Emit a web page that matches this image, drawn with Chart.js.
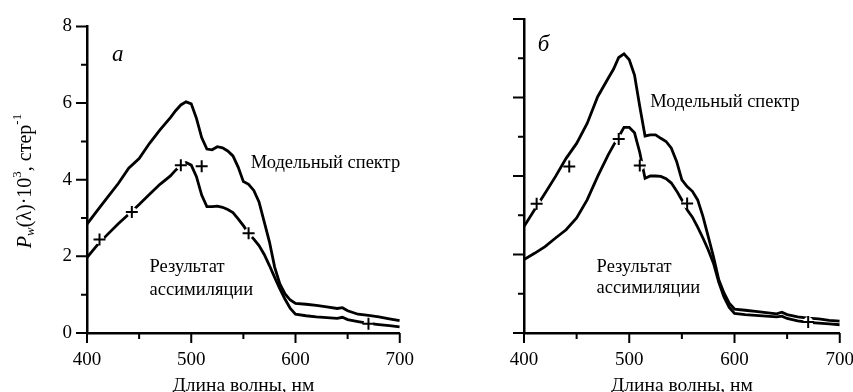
<!DOCTYPE html>
<html>
<head>
<meta charset="utf-8">
<script src="https://cdn.jsdelivr.net/npm/chart.js@4.4.1/dist/chart.umd.min.js"></script>
<style>
  html, body { margin: 0; padding: 0; background: #fff; }
  body { width: 853px; height: 392px; overflow: hidden; position: relative; }
  canvas { position: absolute; top: 0; }
  #panelA { left: 0; }
  #panelB { left: 430px; }
</style>
</head>
<body>
<canvas id="panelA" width="430" height="392"></canvas>
<canvas id="panelB" width="440" height="392"></canvas>
<script>
/*global Chart*/
"use strict";

// wavelength grid, nm
var wavelengths = [400, 410, 420, 430, 440, 450, 460, 470, 480, 485, 490, 495,
  500, 505, 510, 515, 520, 525, 530, 535, 540, 545, 550, 555, 560, 565, 570,
  575, 580, 585, 590, 595, 600, 610, 620, 630, 640, 645, 650, 660, 670, 680,
  690, 700];

// panel a
var modelA = [2.84, 3.2, 3.55, 3.9, 4.3, 4.55, 4.95, 5.3, 5.62, 5.8, 5.95, 6.03,
  5.98, 5.6, 5.1, 4.8, 4.78, 4.86, 4.83, 4.75, 4.62, 4.33, 3.95, 3.88, 3.72,
  3.42, 2.9, 2.38, 1.72, 1.28, 1.02, 0.86, 0.77, 0.75, 0.72, 0.68, 0.64, 0.66,
  0.58, 0.49, 0.46, 0.42, 0.37, 0.32];
var assimA = [1.97, 2.3, 2.58, 2.85, 3.1, 3.35, 3.62, 3.88, 4.1, 4.25, 4.38,
  4.45, 4.38, 4.08, 3.6, 3.3, 3.3, 3.31, 3.28, 3.22, 3.14, 2.98, 2.8, 2.6,
  2.45, 2.28, 2.05, 1.76, 1.45, 1.15, 0.88, 0.64, 0.49, 0.45, 0.42, 0.4, 0.38,
  0.41, 0.35, 0.3, 0.25, 0.22, 0.19, 0.16];

// panel b
var modelB = [2.71, 3.14, 3.56, 3.99, 4.45, 4.83, 5.34, 6.02, 6.49, 6.72, 7.02,
  7.11, 6.96, 6.57, 5.77, 5.02, 5.05, 5.05, 4.96, 4.88, 4.71, 4.37, 3.9, 3.73,
  3.61, 3.39, 2.97, 2.46, 1.95, 1.36, 1.02, 0.76, 0.61, 0.58, 0.55, 0.52, 0.49,
  0.53, 0.47, 0.41, 0.38, 0.36, 0.32, 0.3];
var assimB = [1.87, 2.03, 2.2, 2.42, 2.63, 2.93, 3.39, 3.99, 4.54, 4.78, 5.0,
  5.24, 5.24, 5.1, 4.6, 3.94, 4.0, 4.0, 3.99, 3.93, 3.82, 3.62, 3.39, 3.14,
  2.95, 2.7, 2.42, 2.12, 1.78, 1.3, 0.92, 0.65, 0.5, 0.47, 0.45, 0.43, 0.41,
  0.43, 0.37, 0.31, 0.27, 0.25, 0.23, 0.21];

// satellite bands (crosses)
var bands = [412, 443, 490, 510, 555, 670];
var bandsA = [2.44, 3.16, 4.38, 4.35, 2.6, 0.24];
var bandsB = [3.29, 4.24, 4.94, 4.27, 3.3, 0.28];

var xTicks = [400, 500, 600, 700];
var yTicks = [0, 2, 4, 6, 8];

var SERIF = "'Liberation Serif', 'Times New Roman', serif";

function toPoints(xs, ys) {
  return xs.map(function (x, i) {
    return {x: x, y: ys[i]};
  });
}

var tickMarks = {
  id: "tickMarks",
  afterDraw: function (chart) {
    var ctx = chart.ctx,
      area = chart.chartArea,
      xs = chart.scales.x,
      ys = chart.scales.y;
    ctx.save();
    ctx.strokeStyle = "#000";
    ctx.lineWidth = 2;
    ctx.beginPath();
    xs.ticks.forEach(function (t) {
      var px = xs.getPixelForValue(t.value),
        len = xTicks.indexOf(t.value) >= 0 ? 10 : 6;
      ctx.moveTo(px, area.bottom);
      ctx.lineTo(px, area.bottom + len);
    });
    ys.ticks.forEach(function (t) {
      var py = ys.getPixelForValue(t.value),
        len = yTicks.indexOf(t.value) >= 0 ? 11 : 6;
      ctx.moveTo(area.left - len, py);
      ctx.lineTo(area.left, py);
    });
    ctx.stroke();
    ctx.restore();
  }
};

var textLayer = {
  id: "textLayer",
  afterDraw: function (chart, args, opts) {
    var ctx = chart.ctx,
      area = chart.chartArea,
      xs = chart.scales.x,
      ys = chart.scales.y;
    ctx.save();
    ctx.fillStyle = "#000";
    ctx.textBaseline = "middle";
    ctx.textAlign = "left";
    opts.notes.forEach(function (n) {
      ctx.font = (n.italic ? "italic " : "") + n.size + "px " + SERIF;
      ctx.fillText(n.text, xs.getPixelForValue(n.x), ys.getPixelForValue(n.y));
    });
    // x title
    ctx.font = "19.5px " + SERIF;
    ctx.textAlign = "center";
    ctx.textBaseline = "top";
    ctx.fillText("Длина волны, нм", (area.left + area.right) / 2, 376);
    if (opts.yTitle) {
      var runs = [
          {t: "P", f: "italic 20px ", dy: 0},
          {t: "w", f: "italic 13px ", dy: 5},
          {t: "(λ)·10", f: "20px ", dy: 0},
          {t: "3", f: "13px ", dy: -8},
          {t: ", стер", f: "20px ", dy: 0},
          {t: "-1", f: "13px ", dy: -8}
        ],
        total = 0,
        pos;
      runs.forEach(function (r) {
        ctx.font = r.f + SERIF;
        r.w = ctx.measureText(r.t).width;
        total += r.w;
      });
      ctx.translate(26, 181);
      ctx.rotate(-Math.PI / 2);
      ctx.textAlign = "left";
      ctx.textBaseline = "middle";
      pos = -total / 2;
      runs.forEach(function (r) {
        ctx.font = r.f + SERIF;
        ctx.fillText(r.t, pos, r.dy);
        pos += r.w;
      });
    }
    ctx.restore();
  }
};

function makePanel(id, model, assim, marks, opts) {
  return new Chart(document.getElementById(id), {
    type: "line",
    data: {
      datasets: [
        {
          data: toPoints(bands, marks),
          showLine: false,
          pointStyle: "cross",
          pointRadius: 6,
          pointBorderWidth: 2,
          pointBorderColor: "#000"
        },
        {
          data: toPoints(bands, marks),
          showLine: false,
          pointStyle: "circle",
          pointRadius: 5,
          pointBorderWidth: 0,
          pointBackgroundColor: "#fff"
        },
        {
          data: toPoints(wavelengths, model),
          borderColor: "#000",
          borderWidth: 2.8,
          pointRadius: 0,
          tension: 0
        },
        {
          data: toPoints(wavelengths, assim),
          borderColor: "#000",
          borderWidth: 2.8,
          pointRadius: 0,
          tension: 0
        }
      ]
    },
    options: {
      responsive: false,
      animation: false,
      devicePixelRatio: 1,
      layout: {padding: {top: 19, right: opts.padRight, left: 0, bottom: 0}},
      plugins: {
        legend: {display: false},
        tooltip: {enabled: false},
        textLayer: {notes: opts.notes, yTitle: opts.yTitle}
      },
      scales: {
        x: {
          type: "linear",
          min: 400,
          max: 700,
          grid: {display: false, drawTicks: false},
          border: {display: true, color: "#000", width: 2.5},
          ticks: {
            stepSize: 50,
            autoSkip: false,
            maxRotation: 0,
            padding: 16,
            color: "#000",
            font: {family: SERIF, size: 19},
            callback: function (v) {
              return xTicks.indexOf(v) >= 0 ? String(v) : "";
            }
          },
          afterFit: function (s) { s.height = 59; }
        },
        y: {
          min: 0,
          max: 8,
          grid: {display: false, drawTicks: false},
          border: {display: true, color: "#000", width: 2.5},
          ticks: {
            display: opts.yLabels,
            stepSize: 1,
            padding: 15,
            color: "#000",
            font: {family: SERIF, size: 19},
            callback: function (v) {
              return yTicks.indexOf(v) >= 0 ? String(v) : "";
            }
          },
          afterFit: function (s) { s.width = opts.yWidth; }
        }
      }
    },
    plugins: [tickMarks, textLayer]
  });
}

makePanel("panelA", modelA, assimA, bandsA, {
  yWidth: 87,
  padRight: 28,
  yLabels: true,
  yTitle: true,
  notes: [
    {text: "a", x: 424, y: 7.26, size: 23, italic: true},
    {text: "Модельный спектр", x: 557, y: 4.43, size: 18.5},
    {text: "Результат", x: 460, y: 1.73, size: 18.5},
    {text: "ассимиляции", x: 460, y: 1.12, size: 18.5}
  ]
});

makePanel("panelB", modelB, assimB, bandsB, {
  yWidth: 94,
  padRight: 27,
  yLabels: false,
  yTitle: false,
  notes: [
    {text: "б", x: 413, y: 7.34, size: 23, italic: true},
    {text: "Модельный спектр", x: 520, y: 5.88, size: 18.5},
    {text: "Результат", x: 469, y: 1.68, size: 18.5},
    {text: "ассимиляции", x: 469, y: 1.15, size: 18.5}
  ]
});
</script>
</body>
</html>
